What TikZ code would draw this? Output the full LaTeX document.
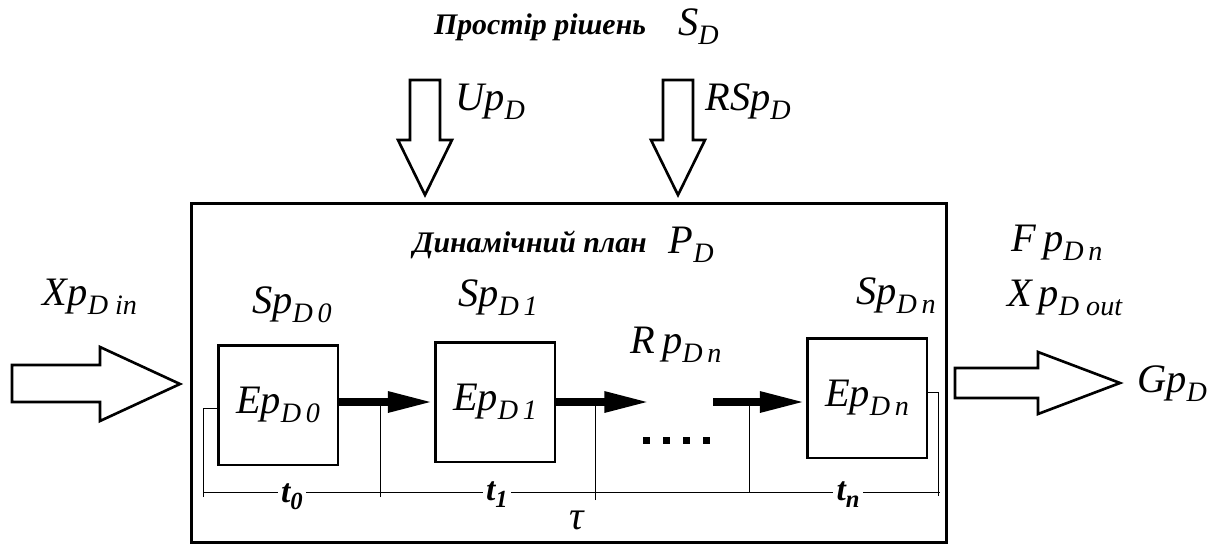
\documentclass[tikz,border=0pt]{standalone}
\usepackage{fontspec}
\setmainfont{Liberation Serif}
\usepackage{tikz}
\usetikzlibrary{arrows.meta,positioning}
\newcommand{\symb}[2]{\textit{#1}\raisebox{-5pt}{\fontsize{16}{18}\selectfont\textit{#2}}}
\tikzset{
  elembox/.style={draw=black, line width=1.7pt, rectangle, minimum width=2.4cm, minimum height=2.4cm, inner sep=0pt, fill=none, font=\fontsize{23}{26}\selectfont},
  planbox/.style={draw=black, line width=1.7pt, rectangle, minimum width=15.1cm, minimum height=6.78cm, anchor=north west},
  flow/.style={-{Triangle[length=26pt, width=11pt]}, line width=4.5pt, draw=black},
  blockarrow/.style={draw=black, line width=1.5pt, fill=white, line join=miter},
  tline/.style={draw=black, line width=0.5pt},
  symlabel/.style={font=\fontsize{23}{26}\selectfont, inner sep=1pt},
  ualabel/.style={font=\fontsize{17}{20}\selectfont\bfseries\itshape, inner sep=1pt},
  tlabel/.style={font=\fontsize{19}{21}\selectfont\bfseries\itshape, fill=white, inner sep=2pt}
}

\begin{document}
\begin{tikzpicture}[x=0.02cm, y=-0.02cm]
  \useasboundingbox (0,0) rectangle (1216,544);
  % space of decisions
  \node[ualabel] (space) at (540,27) {Простір рішень};
  \node[symlabel, right=16pt of space] (sd) {\symb{S}{D}};
  \draw[blockarrow] (410,80) -- (440,80) -- (440,140) -- (452,140) -- (425,195) -- (398,140) -- (410,140) -- cycle;
  \draw[blockarrow] (663,80) -- (693,80) -- (693,140) -- (705,140) -- (678,195) -- (651,140) -- (663,140) -- cycle;
  \node[symlabel] (up) at (490,102) {\symb{Up}{D}};
  \node[symlabel] (rsp) at (748,102) {\symb{RSp}{D}};
  % dynamic plan
  \node[planbox] (plan) at (190,202) {};
  \node[ualabel] (plantitle) at (530,245) {Динамічний план};
  \node[symlabel, right=10pt of plantitle] (pd) {\symb{P}{D}};
  % input and output
  \node[symlabel] (xin) at (90,297) {\symb{Xp}{D in}};
  \draw[blockarrow] (12,365) -- (100,365) -- (100,347) -- (180,384) -- (100,421) -- (100,402) -- (12,402) -- cycle;
  \draw[blockarrow] (955,368) -- (1038,368) -- (1038,352) -- (1120,383) -- (1038,414) -- (1038,398) -- (955,398) -- cycle;
  \node[symlabel] (gp) at (1172,384) {\symb{Gp}{D}};
  \node[symlabel] (fp) at (1057,243) {\symb{F\,p}{D\,n}};
  \node[symlabel] (xout) at (1065,298) {\symb{X\,p}{D out}};
  % elements
  \node[elembox] (e0) at (278,405) {\symb{Ep}{D\,0}};
  \node[elembox] (e1) at (495,402) {\symb{Ep}{D\,1}};
  \node[elembox] (en) at (867,398) {\symb{Ep}{D\,n}};
  \node[symlabel] (s0) at (292,305) {\symb{Sp}{D\,0}};
  \node[symlabel] (s1) at (498,298) {\symb{Sp}{D\,1}};
  \node[symlabel] (sn) at (896,296) {\symb{Sp}{D\,n}};
  \node[symlabel] (rp) at (676,345) {\symb{R\,p}{D\,n}};
  \coordinate (gapl) at (650,402);
  \coordinate (gapr) at (713,402);
  \draw[flow] (e1.west -| e0.east) -- (e1.west);
  \draw[flow] (e1.east) -- (gapl);
  \draw[flow] (gapr) -- (en.west |- gapr);
  \foreach \x in {646,666,686,706}
    \fill (\x-3.5,436.5) rectangle (\x+3.5,443.5);
  % time axis
  \coordinate (ta) at (203,492);
  \coordinate (tb) at (940,492);
  \draw[tline] (ta) -- (tb);
  \draw[tline] (203,497) -- (203,408) -- (e0.west |- 0,408);
  \draw[tline] (380,497) -- (380,402);
  \draw[tline] (595,500) -- (595,402);
  \draw[tline] (749,492) -- (749,402);
  \draw[tline] (en.east |- 0,392) -- (938,392) -- (938,496);
  \node[tlabel] (t0) at (292,497) {t\raisebox{-4pt}{\fontsize{14}{16}\selectfont 0}};
  \node[tlabel] (t1) at (497,495) {t\raisebox{-4pt}{\fontsize{14}{16}\selectfont 1}};
  \node[tlabel] (tn) at (848,495) {t\raisebox{-4pt}{\fontsize{14}{16}\selectfont n}};
  \node[symlabel] (tau) at (577,520) {\textit{τ}};
\end{tikzpicture}
\end{document}
